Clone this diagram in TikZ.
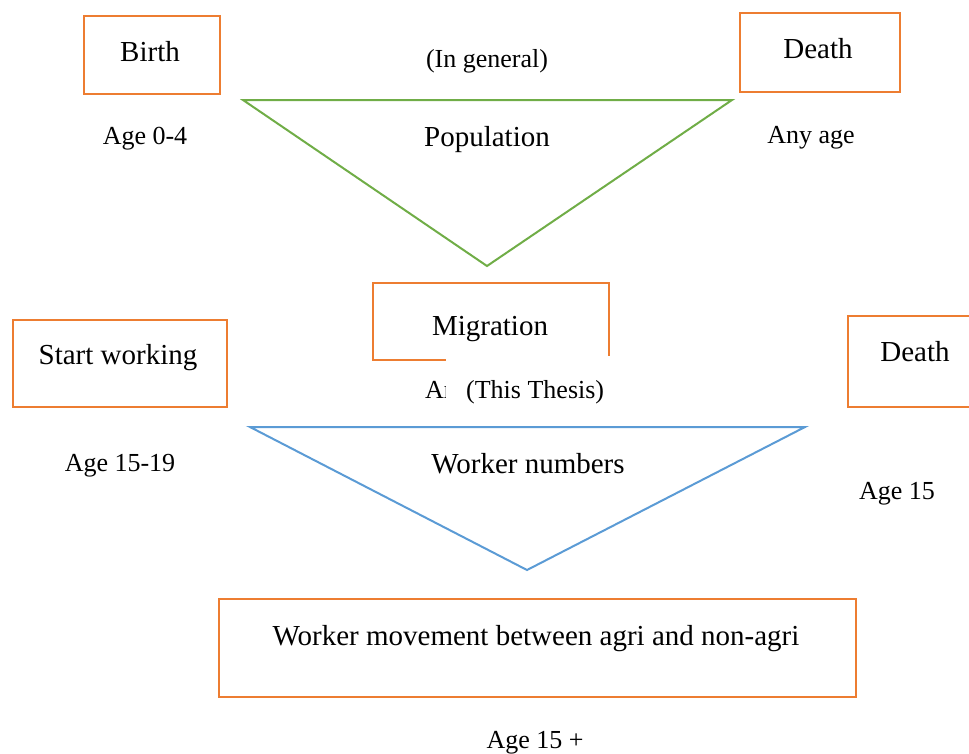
\documentclass[tikz,border=0pt]{standalone}
\usepackage{fontspec}
\setmainfont{Liberation Serif}
\definecolor{boxorange}{HTML}{ED7D31}
\definecolor{popgreen}{HTML}{70AD47}
\definecolor{workblue}{HTML}{5B9BD5}
\tikzset{
  stage/.style={draw=boxorange, line width=2.4pt},
  label/.style={anchor=base, inner sep=0pt, font=\fontsize{29}{34}\selectfont},
  agelabel/.style={anchor=base, inner sep=0pt, font=\fontsize{26}{31}\selectfont},
  funnel/.style={line width=2pt, line join=miter},
}
\begin{document}
\begin{tikzpicture}[x=1pt, y=-1pt]
\useasboundingbox (0,0) rectangle (969,753);
\clip (0,0) rectangle (969,753);

% General population flow
\node[stage, minimum width=136pt, minimum height=78pt, anchor=north west] (birthbox) at (83,15) {};
\node[label] (birth) at (150,61) {Birth};
\node[stage, minimum width=160pt, minimum height=79pt, anchor=north west] (deathbox) at (739,12) {};
\node[label] (death) at (818,58) {Death};
\node[agelabel] (general) at (487,67) {(In general)};
\node[agelabel] (age04) at (145,144) {Age 0-4};
\node[agelabel] (anyage) at (811,143) {Any age};

\coordinate (gtl) at (243,100);
\coordinate (gtr) at (732,100);
\coordinate (gtb) at (487,266);
\draw[funnel, draw=popgreen] (gtl) -- (gtr) -- (gtb) -- cycle;
\node[label] (population) at (487,146) {Population};

% Migration and the workforce flow
\node[stage, minimum width=236pt, minimum height=77pt, anchor=north west] (migbox) at (372,282) {};
\node[label] (migration) at (490,335) {Migration};
\node[agelabel, anchor=base west] (migage) at (425,398) {Any age};
\node[agelabel, anchor=base west, fill=white, inner xsep=20pt, inner ysep=0pt,
      text height=42pt, text depth=22pt] (thesis) at (446,398) {(This Thesis)};

\node[stage, minimum width=214pt, minimum height=87pt, anchor=north west] (startbox) at (12,319) {};
\node[label] (start) at (118,364) {Start working};
\node[stage, minimum width=140pt, minimum height=91pt, anchor=north west] (death2box) at (847,315) {};
\node[label] (death2) at (915,361) {Death};
\node[agelabel] (age1519) at (120,471) {Age 15-19};
\node[agelabel] (age15) at (897,499) {Age 15};

\coordinate (btl) at (250,427);
\coordinate (btr) at (805,427);
\coordinate (btb) at (527,570);
\draw[funnel, draw=workblue] (btl) -- (btr) -- (btb) -- cycle;
\node[label] (workers) at (528,473) {Worker numbers};

\node[stage, minimum width=637pt, minimum height=98pt, anchor=north west] (movebox) at (218,598) {};
\node[label] (movement) at (536,645) {Worker movement between agri and non-agri};
\node[agelabel] (age15plus) at (535,748) {Age 15 +};
\end{tikzpicture}
\end{document}
